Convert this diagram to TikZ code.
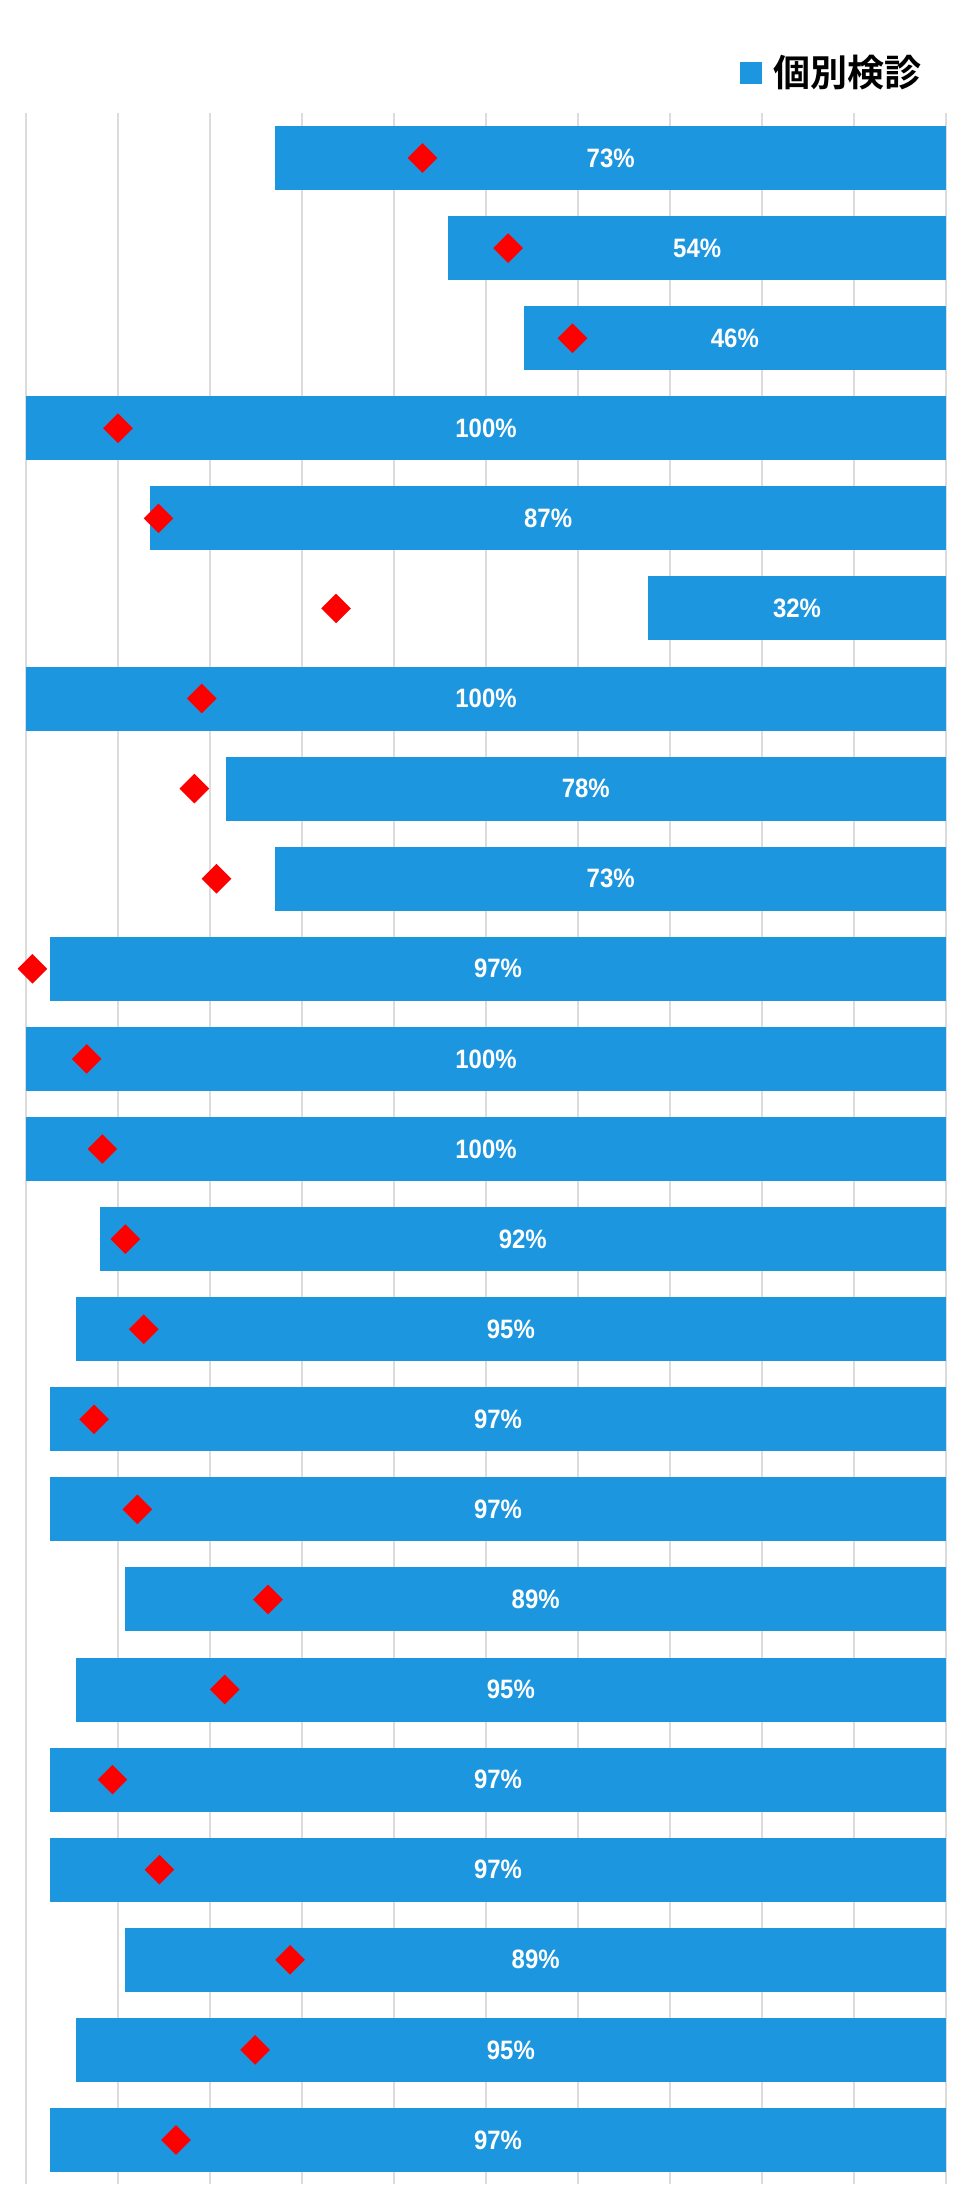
\documentclass[tikz,border=0pt]{standalone}
\usepackage{fontspec}
\setmainfont{Liberation Sans}
\newfontfamily\jpfont[BoldFont={Noto Sans CJK JP Bold}]{Noto Sans CJK JP}
\usetikzlibrary{shapes.geometric,positioning}
\definecolor{barblue}{RGB}{29,150,224}
\definecolor{gridgray}{RGB}{220,220,220}

\begin{document}
\begin{tikzpicture}[x=0.5pt, y=-0.5pt]
	\tikzstyle{hbar}=[fill=barblue]
	\tikzstyle{pct}=[text=white,font=\fontsize{13.3}{14}\selectfont\bfseries,xscale=0.9,inner sep=0]
	\tikzstyle{dia}=[diamond,fill=red,inner sep=0,minimum size=15pt]
	\tikzstyle{keybox}=[fill=barblue,inner sep=0,minimum size=11pt]
	\useasboundingbox (0,0) rectangle (968,2204);

	% grid lines
	\foreach \i in {0,...,10}
		\draw[gridgray, line width=0.7pt] ({26+92*\i},113) -- ({26+92*\i},2184);

	% bars (length / label / marker)
	\foreach \w/\v/\m [count=\n] in {72.9/73/56.9, 54.1/54/47.6, 45.9/46/40.6, 100/100/90.0,
		86.5/87/85.6, 32.4/32/66.3, 100/100/80.9, 78.3/78/81.7, 72.9/73/79.3,
		97.4/97/99.3, 100/100/93.4, 100/100/91.7, 92.0/92/89.2, 94.6/95/87.2,
		97.4/97/92.6, 97.4/97/87.9, 89.2/89/73.7, 94.6/95/78.4, 97.4/97/90.6,
		97.4/97/85.5, 89.2/89/71.3, 94.6/95/75.1, 97.4/97/83.7}{
		\pgfmathsetmacro{\y}{158+90.09*(\n-1)}
		\pgfmathsetmacro{\xl}{946-9.2*\w}
		\fill[hbar] (\xl,\y-32) rectangle (946,\y+32);
		\node[pct] (p\n) at ({(\xl+946)/2},\y) {\v\%};
		\node[dia] (m\n) at ({946-9.2*\m},\y) {};
	}

	% legend
	\node[keybox] (key) at (751,73) {};
	\node[right=5.5pt of key,inner sep=0,font=\jpfont\bfseries\fontsize{18.5}{20}\selectfont] (keytext) {個別検診};
\end{tikzpicture}
\end{document}
